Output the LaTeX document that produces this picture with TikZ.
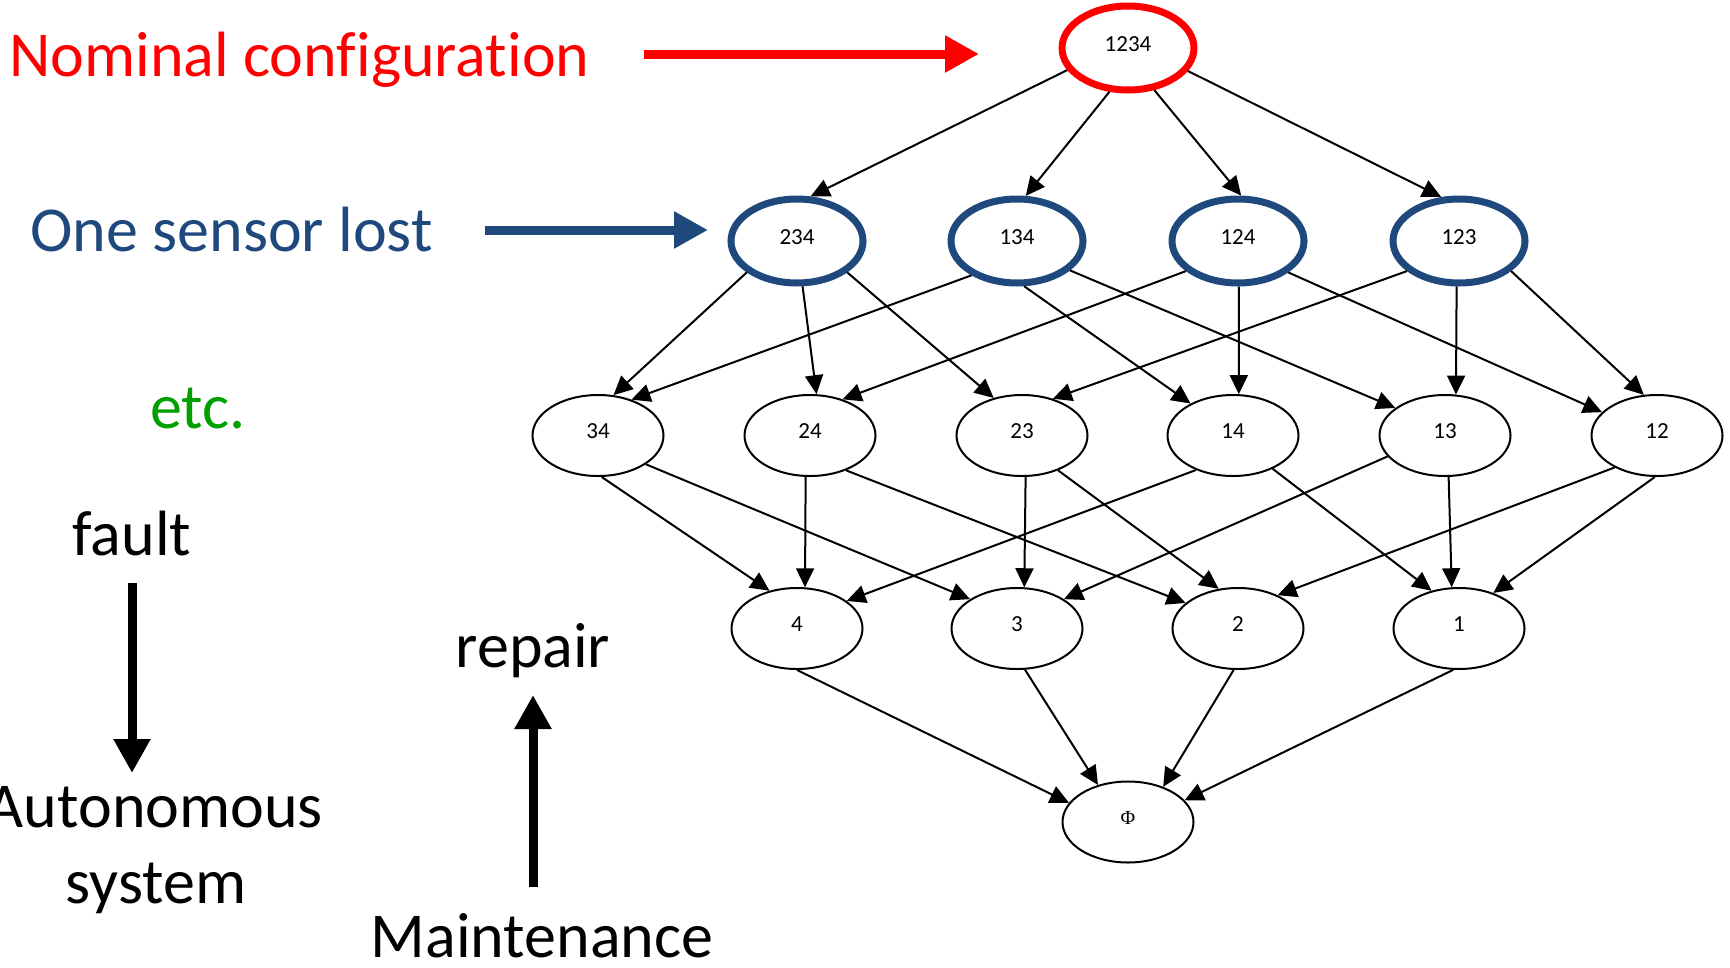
\documentclass[tikz,border=0pt]{standalone}
\usepackage{fontspec}
\setmainfont{Carlito}[Ligatures=CommonOff]
\newfontfamily\phifont{Liberation Serif}
\usetikzlibrary{arrows.meta,shapes.geometric}

\definecolor{nomred}{HTML}{FF0000}
\definecolor{lostblue}{HTML}{1F497D}
\definecolor{etcgreen}{HTML}{00A000}

\begin{document}
\begin{tikzpicture}[x=1pt,y=-1pt,
  cfg/.style={ellipse, draw, line width=2pt, minimum width=131pt, minimum height=81pt,
              inner sep=0pt, font=\fontsize{23}{23}\selectfont, text depth=8pt},
  lost/.style={cfg, draw=lostblue, line width=7pt, minimum width=132pt, minimum height=84pt},
  nominal/.style={lost, draw=nomred},
  link/.style={line width=2pt, -{Triangle[length=19pt,width=18pt]}},
  bigarrow/.style={line width=9pt, -{Triangle[length=34pt,width=35pt]}},
  lbl/.style={inner sep=0pt, font=\fontsize{64}{76}\selectfont}
]
\useasboundingbox (0,0) rectangle (1730,967);

% side captions
\node[lbl, text=nomred, anchor=base west] (tnom) at (9,76) {Nominal configuration};
\node[lbl, text=lostblue, anchor=base west] (tlost) at (30,251) {One sensor lost};
\node[lbl, text=etcgreen, anchor=base west] (tetc) at (150,428) {etc.};
\node[lbl, anchor=base] (tfault) at (132,555) {fault};
\node[lbl, anchor=base] (tauto) at (155,827) {Autonomous};
\node[lbl, anchor=base] (tsys) at (156,903) {system};
\node[lbl, anchor=base] (trep) at (533,667) {repair};
\node[lbl, anchor=base] (tmaint) at (542,957) {Maintenance};

% thick pointer arrows
\coordinate (nomA) at (644,54);  \coordinate (nomB) at (979,54);
\coordinate (lostA) at (485,230); \coordinate (lostB) at (708,230);
\coordinate (faultA) at (132,583); \coordinate (faultB) at (132,773);
\coordinate (repA) at (533,887);  \coordinate (repB) at (533,695);
\draw[bigarrow, nomred] (nomA) -- (nomB);
\draw[bigarrow, lostblue] (lostA) -- (lostB);
\draw[bigarrow] (faultA) -- (faultB);
\draw[bigarrow] (repA) -- (repB);

% configuration lattice
\node[nominal] (n1234) at (1128,48) {1234};

\node[lost] (n234) at (797,241) {234};
\node[lost] (n134) at (1017,241) {134};
\node[lost] (n124) at (1238,241) {124};
\node[lost] (n123) at (1459,241) {123};

\node[cfg] (n34) at (598,435.5) {34};
\node[cfg] (n24) at (810,435.5) {24};
\node[cfg] (n23) at (1022,435.5) {23};
\node[cfg] (n14) at (1233,435.5) {14};
\node[cfg] (n13) at (1445,435.5) {13};
\node[cfg] (n12) at (1657,435.5) {12};

\node[cfg] (n4) at (797,628.5) {4};
\node[cfg] (n3) at (1017,628.5) {3};
\node[cfg] (n2) at (1238,628.5) {2};
\node[cfg] (n1) at (1459,628.5) {1};

\node[cfg, font=\phifont\fontsize{20}{20}\selectfont] (nphi) at (1128,822) {Φ};

% losing one sensor
\draw[link] (n1234.200) -- (n234.73);
\draw[link] (n1234.247) -- (n134.79);
\draw[link] (n1234.302) -- (n124.86);
\draw[link] (n1234.339) -- (n123.112);

% losing two sensors
\draw[link] (n234.212) -- (n34.69);
\draw[link] (n234.277) -- (n24.81);
\draw[link] (n234.328) -- (n23.127);
\draw[link] (n134.217) -- (n34.47);
\draw[link] (n134.279) -- (n14.143);
\draw[link] (n134.331) -- (n13.151);
\draw[link] (n124.210) -- (n24.48);
\draw[link] (n124.271) -- (n14.82);
\draw[link] (n124.328) -- (n12.157);
\draw[link] (n123.210) -- (n23.50);
\draw[link] (n123.267) -- (n13.75);
\draw[link] (n123.330) -- (n12.108);

% losing three sensors
\draw[link] (n34.275) -- (n4.126);
\draw[link] (n34.329) -- (n3.148);
\draw[link] (n24.264) -- (n4.79);
\draw[link] (n24.316) -- (n2.154);
\draw[link] (n23.275) -- (n3.80);
\draw[link] (n23.316) -- (n2.116);
\draw[link] (n14.223) -- (n4.29);
\draw[link] (n14.320) -- (n1.126);
\draw[link] (n13.200) -- (n3.32);
\draw[link] (n13.275) -- (n1.100);
\draw[link] (n12.217) -- (n2.40);
\draw[link] (n12.267) -- (n1.46);

% no sensor left
\draw[link] (n4.270) -- (nphi.162);
\draw[link] (n3.281) -- (nphi.129);
\draw[link] (n2.264) -- (nphi.45);
\draw[link] (n1.262) -- (nphi.21);
\end{tikzpicture}
\end{document}
